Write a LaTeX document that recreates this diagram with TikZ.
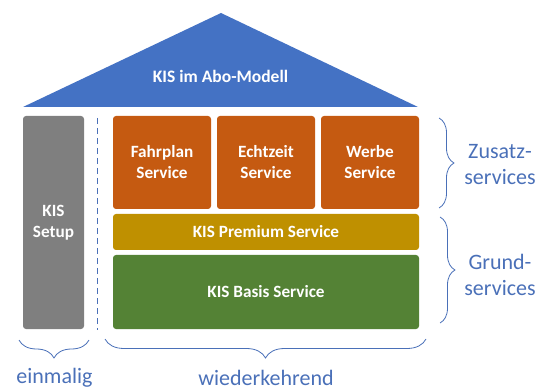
\documentclass[tikz,border=0pt]{standalone}
\usepackage{fontspec}
\setmainfont{Carlito}
\usetikzlibrary{decorations.pathreplacing}
\definecolor{roofblue}{HTML}{4472C4}
\definecolor{addorange}{HTML}{C55A11}
\definecolor{premgold}{HTML}{BF9000}
\definecolor{basegreen}{HTML}{548235}
\definecolor{setupgrey}{HTML}{7F7F7F}
\definecolor{labelblue}{HTML}{4A70B8}
\begin{document}
\begin{tikzpicture}[x=1pt,y=-1pt,
  block/.style={rounded corners=3pt, draw=none},
  blocktext/.style={text=white, font=\fontsize{17.2}{21}\selectfont\bfseries, align=center},
  rooftext/.style={text=white, font=\fontsize{17.5}{21}\selectfont\bfseries, align=center},
  sidetext/.style={text=labelblue, font=\fontsize{22}{25.5}\selectfont, align=center},
  bracestyle/.style={draw=labelblue, line width=0.8pt, decorate,
    decoration={brace, amplitude=#1}},
  bracestyle/.default=15pt]
\useasboundingbox (0,0) rectangle (549,390);

% roof
\fill[roofblue] (23,107) -- (221,13) -- (418,107) -- cycle;
\node[rooftext] (roof) at (220.5,76) {KIS im Abo-Modell};

% one-off setup column
\fill[block, setupgrey] (23,116) rectangle (84,329);
\node[blocktext] (setup) at (53.5,223) {KIS\\Setup};

% separator
\draw[labelblue, line width=0.8pt, dash pattern=on 6pt off 4pt] (97,118) -- (97,330);

% additional services
\fill[block, addorange] (113,116) rectangle (211,209);
\node[blocktext] (fahr) at (162,162.5) {Fahrplan\\Service};
\fill[block, addorange] (217,116) rectangle (315,209);
\node[blocktext] (echt) at (266,162.5) {Echtzeit\\Service};
\fill[block, addorange] (321,116) rectangle (419,209);
\node[blocktext] (werbe) at (370,162.5) {Werbe\\Service};

% base services
\fill[block, premgold] (113,214) rectangle (419,250);
\node[blocktext] (prem) at (266,232) {KIS Premium Service};
\fill[block, basegreen] (113,255) rectangle (419,329);
\node[blocktext] (basis) at (266,292) {KIS Basis Service};

% right-hand braces
\coordinate (zt) at (439,118);
\coordinate (zb) at (439,208);
\draw[bracestyle] (zt) -- (zb);
\node[sidetext] (zusatz) at (500,164.5) {Zusatz-\\services};
\coordinate (gt) at (440,217);
\coordinate (gb) at (440,323);
\draw[bracestyle] (gt) -- (gb);
\node[sidetext] (grund) at (500,275) {Grund-\\services};

% bottom braces
\coordinate (el) at (89,340);
\coordinate (er) at (19,340);
\draw[bracestyle=18pt] (el) -- (er);
\node[sidetext, inner sep=1pt] (einm) at (54.5,377.5) {einmalig};
\coordinate (wl) at (426,339);
\coordinate (wr) at (105,339);
\draw[bracestyle=19pt] (wl) -- (wr);
\node[sidetext, inner sep=1pt] (wieder) at (266,377.5) {wiederkehrend};
\end{tikzpicture}
\end{document}
